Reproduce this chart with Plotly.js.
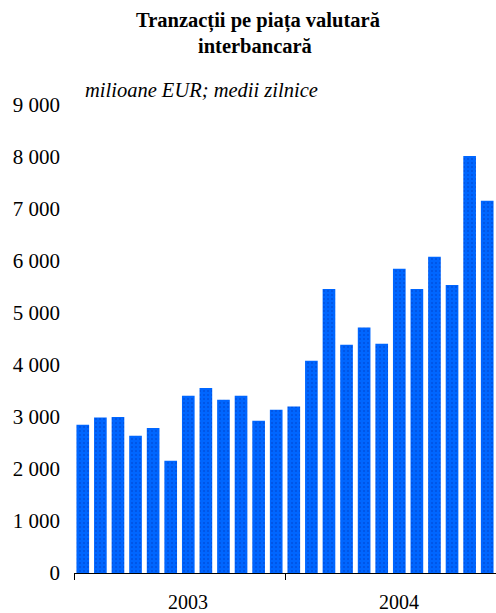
<!DOCTYPE html>
<html>
<head>
<meta charset="utf-8">
<script src="https://cdn.plot.ly/plotly-3.0.1.min.js"></script>
<style>html,body{margin:0;padding:0;background:#fff;}#chart{width:496px;height:613px;}</style>
</head>
<body>
<div id="chart"></div>
<script>
const months = ["2003-01","2003-02","2003-03","2003-04","2003-05","2003-06","2003-07","2003-08","2003-09","2003-10","2003-11","2003-12",
                "2004-01","2004-02","2004-03","2004-04","2004-05","2004-06","2004-07","2004-08","2004-09","2004-10","2004-11","2004-12"];
const values = [2850, 2990, 3000, 2640, 2790, 2160, 3410, 3560, 3330, 3410, 2930, 3140,
                3200, 4080, 5460, 4390, 4720, 4410, 5850, 5460, 6080, 5540, 8020, 7160];
const yearLabels = ["2003", "2004"];
const yearCenters = [6, 18];
const yearBounds = [-0.5, 11.5, 23.5];
const yTickVals = [0,1000,2000,3000,4000,5000,6000,7000,8000,9000];
const yTickText = ["0","1 000","2 000","3 000","4 000","5 000","6 000","7 000","8 000","9 000"];
const titleLines = ["Tranzacții pe piața valutară", "interbancară"];
const subtitle = "milioane EUR; medii zilnice";

const xIdx = months.map((m, i) => i);
const font = "'Liberation Serif', 'Times New Roman', serif";

const trace = {
  type: "bar",
  x: xIdx,
  y: values,
  hovertext: months,
  textposition: "none",
  hoverinfo: "text+y",
  marker: {
    color: "#0066ff",
    line: {width: 0},
    pattern: {shape: ".", fgcolor: "#0050e0", bgcolor: "#0066ff", size: 4, solidity: 0.2, fillmode: "replace"}
  }
};

const plotTop = 105, plotBottom = 573, plotH = plotBottom - plotTop;
const py = (pix) => (plotBottom - pix) / plotH;

const layout = {
  width: 496, height: 613,
  margin: {l: 74, r: 0, t: plotTop, b: 613 - plotBottom, pad: 0},
  paper_bgcolor: "#fff", plot_bgcolor: "#fff",
  bargap: 0.28,
  showlegend: false,
  font: {family: font, color: "#000", size: 20},
  xaxis: {
    range: [-0.5, 23.5],
    tickmode: "array", tickvals: yearBounds,
    showticklabels: false,
    ticks: "outside", ticklen: 6, tickwidth: 1, tickcolor: "#000",
    showline: true, linecolor: "#000", linewidth: 1,
    showgrid: false, zeroline: false, fixedrange: true
  },
  yaxis: {
    range: [0, 9000],
    tickmode: "array", tickvals: yTickVals, ticktext: yTickText,
    tickfont: {family: font, size: 21, color: "#000"},
    ticks: "", showline: false, showgrid: false, zeroline: false,
    ticklabelstandoff: 13, fixedrange: true
  },
  annotations: [
    {text: "<b>" + titleLines[0] + "</b>", xref: "paper", yref: "paper",
     x: (258 - 74) / 422, xanchor: "center", y: py(21), yanchor: "middle", showarrow: false,
     font: {family: font, size: 20.5, color: "#000"}},
    {text: "<b>" + titleLines[1] + "</b>", xref: "paper", yref: "paper",
     x: (255 - 74) / 422, xanchor: "center", y: py(46), yanchor: "middle", showarrow: false,
     font: {family: font, size: 20.5, color: "#000"}},
    {text: "<i>" + subtitle + "</i>", xref: "paper", yref: "paper",
     x: (83 - 74) / 422, xanchor: "left", y: py(90), yanchor: "middle", showarrow: false,
     font: {family: font, size: 20.5, color: "#000"}}
  ].concat(yearLabels.map((t, i) => ({
     text: t, xref: "x", yref: "paper", x: yearCenters[i], xanchor: "center",
     y: py(602), yanchor: "middle", showarrow: false,
     font: {family: font, size: 20, color: "#000"}
  })))
};

Plotly.newPlot("chart", [trace], layout, {displayModeBar: false, staticPlot: true});
</script>
</body>
</html>
